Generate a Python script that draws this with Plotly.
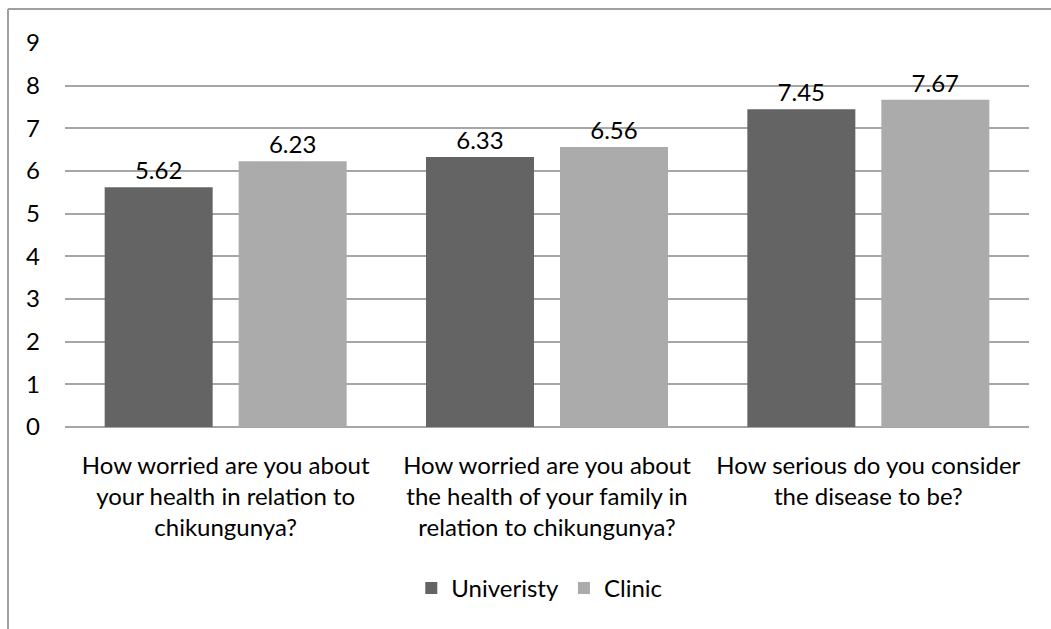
import plotly.graph_objects as go

categories = [
    "How worried are you about<br>your health in relation to<br>chikungunya?",
    "How worried are you about<br>the health of your family in<br>relation to chikungunya?",
    "How serious do you consider<br>the disease to be?",
]
university = [5.62, 6.33, 7.45]
clinic = [6.23, 6.56, 7.67]
y_ticks = [0, 1, 2, 3, 4, 5, 6, 7, 8, 9]

FONT = "Lato, Open Sans, sans-serif"
FS = 24

fig = go.Figure()
fig.add_trace(go.Bar(
    name="Univeristy", x=categories, y=university,
    marker=dict(color="#646464", line=dict(width=0)),
    text=[f"{v:.2f}" for v in university], textposition="outside",
    textfont=dict(size=FS, color="#000000", family=FONT), cliponaxis=False,
))
fig.add_trace(go.Bar(
    name="Clinic", x=categories, y=clinic,
    marker=dict(color="#ababab", line=dict(width=0)),
    text=[f"{v:.2f}" for v in clinic], textposition="outside",
    textfont=dict(size=FS, color="#000000", family=FONT), cliponaxis=False,
))

fig.update_layout(
    width=1051, height=629,
    margin=dict(l=65, r=22, t=43, b=202),
    paper_bgcolor="white", plot_bgcolor="white",
    barmode="group", bargap=0.166, bargroupgap=0.194,
    font=dict(family=FONT, size=FS, color="#000000"),
    showlegend=True,
    legend=dict(orientation="h", x=0.492, xanchor="center", y=-0.42, yanchor="middle",
                font=dict(size=FS, family=FONT), itemwidth=30, traceorder="normal"),
    xaxis=dict(showgrid=False, showline=False, ticks="", ticklabelstandoff=22,
               tickfont=dict(size=FS, family=FONT)),
    yaxis=dict(range=[0, 9], tickvals=y_ticks, showgrid=True, gridcolor="#a6a6a6", gridwidth=2,
               zeroline=True, zerolinecolor="#a6a6a6", zerolinewidth=2, showline=False,
               ticks="", ticklabelstandoff=24, tickfont=dict(size=FS, family=FONT)),
    shapes=[
        dict(type="line", xref="paper", yref="paper", x0=-57/964, x1=1.1, y0=1+34/384, y1=1+34/384,
             line=dict(color="#a0a0a0", width=2)),
        dict(type="line", xref="paper", yref="paper", x0=-57/964, x1=-57/964, y0=1+34/384, y1=-0.6,
             line=dict(color="#a0a0a0", width=2)),
    ],
)

fig.write_html("out.html")
